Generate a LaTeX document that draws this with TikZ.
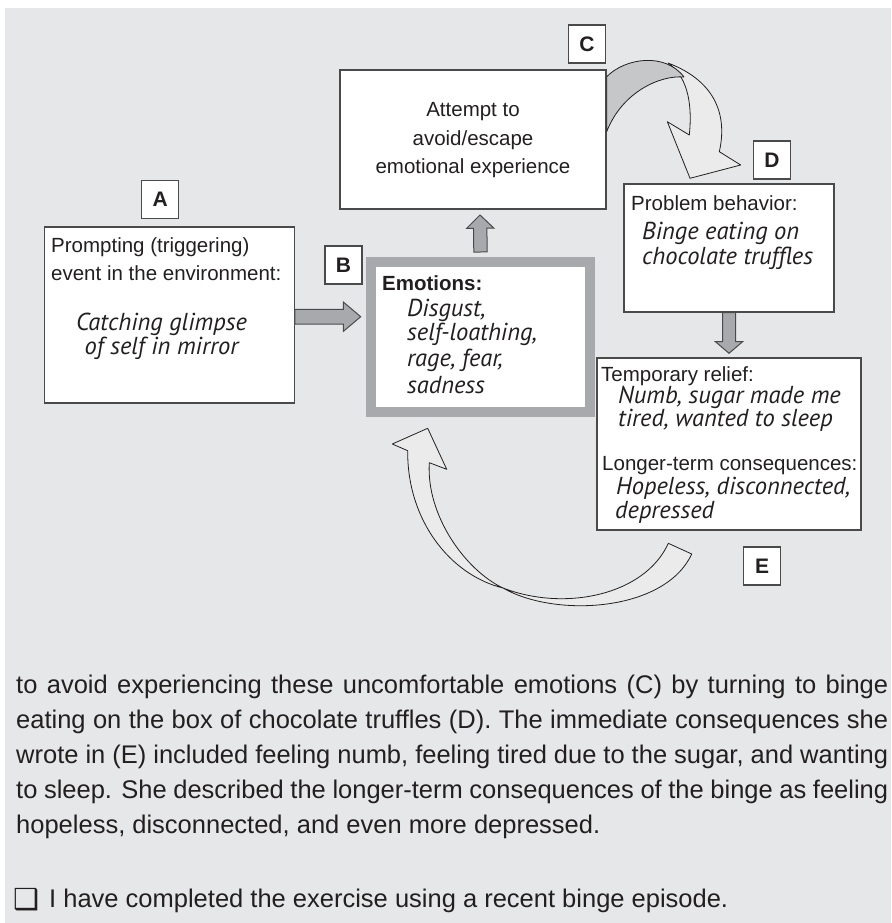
\documentclass[tikz,border=0pt]{standalone}
\usepackage{fontspec}
\newfontfamily\arial{Liberation Sans}
\newfontfamily\hand{PT Sans}
\newfontfamily\symf{DejaVu Sans}
\usetikzlibrary{calc}
\definecolor{bggray}{HTML}{E6E7E8}
\definecolor{arrowgray}{HTML}{A7A9AC}
\definecolor{ink}{HTML}{231F20}
\definecolor{edge}{HTML}{4A4A4A}
\definecolor{ribbondark}{HTML}{C6C7C9}
\definecolor{ribbonlight}{HTML}{EBEBEC}

% straight block arrow: #1 start, #2 tip, #3 half shaft width, #4 half head width, #5 head length
\newcommand\blockarr[5]{%
  \path (#1) coordinate (ba-s) (#2) coordinate (ba-t);
  \coordinate (ba-b) at ($(ba-t)!#5!(ba-s)$);
  \draw[blockarrow] ($(ba-s)!#3!90:(ba-t)$) -- ($(ba-b)!#3!90:(ba-t)$)
    -- ($(ba-b)!#4!90:(ba-t)$) -- (ba-t) -- ($(ba-b)!#4!-90:(ba-t)$)
    -- ($(ba-b)!#3!-90:(ba-t)$) -- ($(ba-s)!#3!-90:(ba-t)$) -- cycle;}

\begin{document}
\begin{tikzpicture}[x=1pt,y=-1pt,
  box/.style={draw=edge, line width=1.3pt, fill=white, inner sep=0pt},
  lbl/.style={box, minimum width=37pt, minimum height=38pt,
    font=\arial\bfseries\fontsize{21}{21}\selectfont, text=ink},
  print/.style={inner sep=0pt, text=ink, font=\arial\fontsize{20.5}{24}\selectfont},
  printb/.style={inner sep=0pt, text=ink, font=\arial\bfseries\fontsize{20.5}{24}\selectfont},
  hw/.style={inner sep=0pt, text=ink, font=\hand\itshape\fontsize{24.5}{26}\selectfont},
  body/.style={inner sep=0pt, text=ink, font=\arial\fontsize{25.5}{35}\selectfont, anchor=base west},
  blockarrow/.style={draw=edge, line width=1pt, fill=arrowgray, line join=miter},
  ribbon/.style={draw=ink, line width=0.8pt, line join=round}]

\useasboundingbox (0,0) rectangle (891,923);
\fill[white] (0,0) rectangle (891,923);
\fill[bggray] (5,8) rectangle (891,923);

% boxes
\node[box, minimum width=249.6pt, minimum height=176pt] (boxA) at (169.5,315) {};
\node[box, minimum width=266pt, minimum height=139pt] (boxC) at (473,139.5) {};
\node[box, minimum width=210pt, minimum height=128pt] (boxD) at (729,248) {};
\node[box, minimum width=264pt, minimum height=172pt] (boxE) at (729,444) {};
\node[draw=arrowgray, line width=10pt, fill=white, inner sep=0pt,
      minimum width=219pt, minimum height=150pt] (emo) at (480.5,337) {};

% letter tags
\node[lbl] (tagA) at (160.2,199.5) {A};
\node[lbl] (tagB) at (343.5,265) {B};
\node[lbl] (tagC) at (587,44) {C};
\node[lbl] (tagD) at (772,160) {D};
\node[lbl] (tagE) at (762,566) {E};

% straight block arrows
\coordinate (abTip) at (360.7,316.7);
\blockarr{[yshift=-1.7pt]boxA.east}{abTip}{7.35pt}{14.7pt}{17.4pt}
\coordinate (bcTip) at (480,215);
\blockarr{[yshift=5pt]emo.north}{bcTip}{6.7pt}{13.7pt}{13.3pt}
\coordinate (deTip) at (729,353.3);
\blockarr{boxD.south}{deTip}{6.5pt}{13.7pt}{11.7pt}

% twisted ribbon arrow from C to D: head part
\path[ribbon, fill=ribbonlight] (668,63) .. controls (718,82) and (727,118) .. (719.3,151.7)
  -- (740.7,165) -- (690,178.3) -- (667.3,121.7) -- (689.3,135)
  .. controls (692,110) and (690,78) .. (668,63) -- cycle;
% twisted ribbon arrow from C to D: tail part
\path[ribbon, fill=ribbondark] (606.7,76.7) .. controls (625,58) and (665,52) .. (684,77)
  .. controls (660,75) and (622,92) .. (606.7,131.7) -- cycle;

% twisted ribbon arrow from E back to the emotions
\path[ribbon, fill=ribbonlight] (668.3,543.3) -- (691.7,554)
  .. controls (665,612) and (555,618) .. (503,588)
  .. controls (565,612) and (645,595) .. (668.3,543.3) -- cycle;
\path[ribbon, fill=ribbonlight] (427.7,428.3) -- (392.3,444) -- (407.7,450.7)
  .. controls (407,520) and (450,575) .. (503,588)
  .. controls (465,570) and (426,515) .. (429.3,462.7)
  -- (446.7,469.3) -- cycle;

% box texts
\node[print, anchor=base west] (a1) at (51,252.5) {Prompting (triggering)};
\node[print, anchor=base west] (a2) at (51,280) {event in the environment:};
\node[hw, anchor=base] (a3) at (161.5,330) {Catching glimpse};
\node[hw, anchor=base] (a4) at (161.5,354) {of self in mirror};

\node[print, anchor=base] (c1) at (473,117) {Attempt to};
\node[print, anchor=base] (c2) at (473,145.5) {avoid/escape};
\node[print, anchor=base] (c3) at (473,173) {emotional experience};

\node[printb, anchor=base west] (b1) at (382,290.7) {Emotions:};
\node[hw, anchor=base west] (b2) at (407,316.7) {Disgust,};
\node[hw, anchor=base west] (b3) at (407,340.7) {self-loathing,};
\node[hw, anchor=base west] (b4) at (407,366.7) {rage, fear,};
\node[hw, anchor=base west] (b5) at (407,393.3) {sadness};

\node[print, anchor=base west] (d1) at (631,210) {Problem behavior:};
\node[hw, anchor=base west] (d2) at (642,239.3) {Binge eating on};
\node[hw, anchor=base west] (d3) at (642,264) {chocolate truffles};

\node[print, anchor=base west] (e1) at (601,381) {Temporary relief:};
\node[hw, anchor=base west] (e2) at (618,403.3) {Numb, sugar made me};
\node[hw, anchor=base west] (e3) at (618,426.7) {tired, wanted to sleep};
\node[print, anchor=base west] (e4) at (602,470.7) {Longer-term consequences:};
\node[hw, anchor=base west] (e5) at (616,494.5) {Hopeless, disconnected,};
\node[hw, anchor=base west] (e6) at (615,518.5) {depressed};

% running text below
\node[body] (p1) at (16,693) {\makebox[872pt][s]{to avoid experiencing these uncomfortable emotions (C) by turning to binge}};
\node[body] (p2) at (16,728) {\makebox[872pt][s]{eating on the box of chocolate truffles (D). The immediate consequences she}};
\node[body] (p3) at (16,763) {\makebox[872pt][s]{wrote in (E) included feeling numb, feeling tired due to the sugar, and wanting}};
\node[body] (p4) at (16,798) {\makebox[872pt][s]{to sleep. She described the longer-term consequences of the binge as feeling}};
\node[body] (p5) at (16,833) {hopeless, disconnected, and even more depressed.};
\node[body, font=\symf\fontsize{29}{29}\selectfont] (chk) at (13,909) {❑};
\node[body] (p6) at (49,907) {I have completed the exercise using a recent binge episode.};
\end{tikzpicture}
\end{document}
